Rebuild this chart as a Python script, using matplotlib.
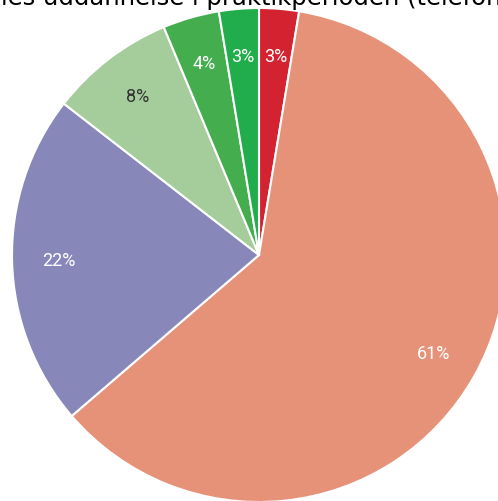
import matplotlib.pyplot as plt

# share of answers, clockwise from the top
labels = ['a', 'b', 'c', 'd', 'e', 'f']
values = [2.6, 61.1, 21.8, 8.2, 3.7, 2.6]
colors = ['#d42330', '#e69279', '#8887b9', '#a5cd9b', '#44ad4e', '#21ad4b']
text_colors = ['white', 'white', 'white', '#333333', 'white', 'white']
title = "ies uddannelse i praktikperioden (telefon"

fig = plt.figure(figsize=(4.98, 5.02), dpi=100)
ax = fig.add_axes([0, 0, 1, 1])

wedges, texts, autotexts = ax.pie(
    values, colors=colors, startangle=90, counterclock=False,
    autopct='%1.0f%%', pctdistance=0.81,
    wedgeprops=dict(edgecolor='white', linewidth=1.5),
    textprops=dict(fontsize=13, family='Roboto'))

for t, c in zip(autotexts, text_colors):
    t.set_color(c)

# place the pie like the reference: center (259, 256) px, radius 247 px
ax.set_xlim(-259 / 247, (498 - 259) / 247)
ax.set_ylim(-(502 - 256) / 247, 256 / 247)
ax.set_aspect('equal')
ax.axis('off')

# the title is cut at the top of the image in the reference too
fig.text(0.505, 1 - 5 / 502, title, ha='center', va='baseline',
         fontsize=17.5, family='DejaVu Sans')

fig.savefig('out.png', dpi=100)
